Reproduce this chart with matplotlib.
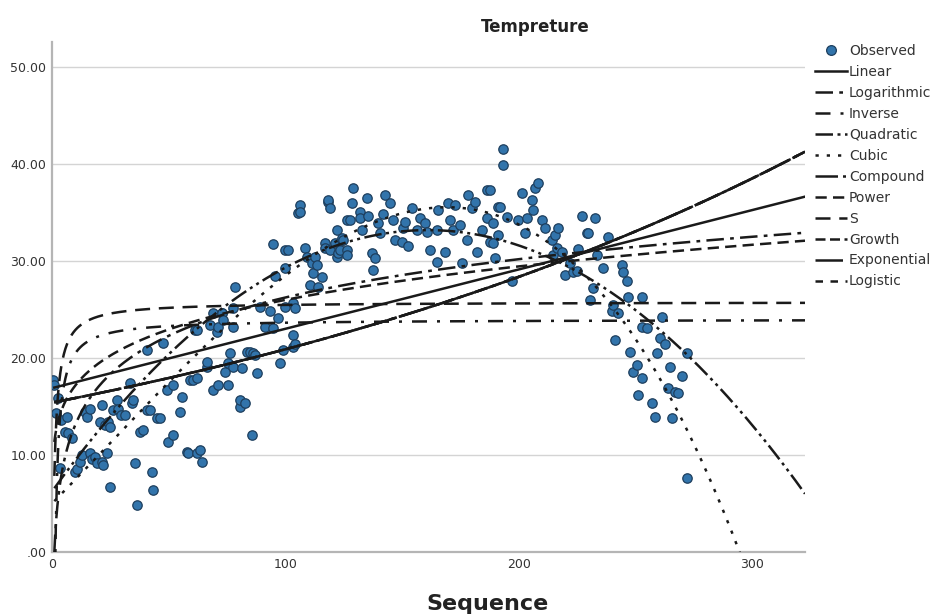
import numpy as np
import matplotlib
matplotlib.use("Agg")
import matplotlib.pyplot as plt
from matplotlib.lines import Line2D

# ---------------- data ----------------
obs_x = [0.4, 1.0, 1.5, 2.6, 3.4, 4.0, 5.6, 6.4, 6.9, 8.6, 9.9, 10.7, 12.0, 12.9, 14.1, 15.0, 16.3, 16.3,
         17.0, 18.4, 19.3, 20.6, 21.4, 21.4, 22.0, 22.7, 23.6, 24.0, 24.9, 24.9, 26.0, 27.8, 28.3, 29.5,
         31.3, 33.4, 34.3, 34.7, 35.6, 36.4, 37.7, 39.0, 40.7, 40.7, 42.0, 42.9, 43.3, 45.0, 46.3, 47.6,
         49.3, 49.7, 51.9, 51.9, 54.9, 55.7, 57.9, 58.3, 59.2, 60.4, 61.3, 62.2, 62.1, 63.4, 64.3,
         62.2, 66.4, 66.4, 67.7, 69.0, 69.0, 70.7, 71.2, 71.2, 72.9, 72.9, 73.3, 74.2, 75.4, 75.4, 76.3,
         77.6, 77.6, 77.6, 78.4, 80.6, 80.6, 81.4, 82.7, 83.6, 84.9, 85.5, 86.2, 87.0, 87.9, 89.2, 91.3,
         93.4, 94.7, 94.7, 95.6, 96.9, 97.7, 99.0, 99.9, 99.9, 99.9,
         101.2, 103.3, 103.3, 103.3, 104.2, 104.2, 105.4, 106.3, 106.3, 108.4, 109.3, 110.6, 111.4, 111.9,
         112.7, 113.6, 114.0, 115.7, 117.0, 117.0, 118.3, 118.3, 119.2, 119.2, 121.3, 122.2, 122.2, 122.6,
         123.4, 124.3, 124.3, 124.7, 126.4, 126.4, 126.4, 127.7, 128.6, 129.0,
         132.0, 132.0, 132.9, 135.0, 135.4, 137.2, 137.6, 138.4, 139.7, 140.6, 141.9, 142.7, 144.9, 146.2,
         147.0, 150.0, 150.4, 151.3, 152.6, 154.3, 156.4, 157.7, 159.9, 160.7, 162.0, 165.0, 165.0, 165.5,
         168.5, 169.7, 170.6, 171.9, 172.7, 174.9, 175.7, 177.9, 178.3, 180.0, 181.3, 182.2, 184.3, 186.5,
         186.5, 187.7, 187.7, 189.0, 189.0, 189.9, 191.2, 191.2,
         192.0, 193.3, 193.3, 195.0, 197.2, 199.7, 201.5, 202.7, 203.6, 205.7, 206.2, 207.0, 208.3, 210.0,
         211.3, 214.3, 214.7, 215.6, 216.4, 216.9, 218.6, 219.9, 222.0, 223.3, 225.0, 225.5, 227.2, 229.3,
         229.7, 230.6, 231.9, 232.7,
         233.6, 236.2, 238.3, 240.0, 240.5, 241.3, 242.6, 244.3, 244.7, 246.5, 246.9, 247.7, 249.0, 250.7,
         251.2, 252.9, 252.9, 252.9, 255.0, 257.2, 258.5, 259.3, 260.6, 261.5, 262.7, 264.0, 264.9, 265.8,
         267.0, 268.3, 270.0, 272.2, 272.2]
obs_y = [17.7, 17.2, 14.3, 15.9, 8.7, 13.6, 12.4, 13.9, 12.3, 11.8, 8.2, 8.6, 9.3, 10.0, 14.4, 13.9, 14.8, 10.2,
         9.6, 9.8, 9.2, 13.4, 15.2, 9.3, 9.0, 13.1, 10.2, 13.4, 12.9, 6.7, 14.6, 15.7, 14.8, 14.1,
         14.1, 17.4, 15.4, 15.7, 9.2, 4.8, 12.4, 12.6, 20.8, 14.6, 14.6, 8.2, 6.4, 13.8, 13.8, 21.6,
         16.7, 11.3, 17.2, 12.1, 14.4, 16.0, 10.3, 10.2, 17.7, 17.7, 22.9, 17.9, 10.2, 10.5, 9.3,
         22.9, 19.1, 19.6, 23.4, 16.7, 24.6, 22.7, 17.2, 23.2, 24.6, 24.7, 23.9, 18.6, 17.2, 19.5, 20.5,
         23.2, 25.2, 19.1, 27.3, 15.0, 15.7, 19.0, 15.4, 20.6, 20.6, 12.1, 20.5, 20.3, 18.5, 25.3, 23.2,
         24.9, 23.1, 31.8, 28.5, 24.1, 19.5, 20.8, 25.3, 29.3, 31.1,
         31.1, 22.4, 21.1, 25.7, 21.5, 25.2, 35.0, 35.8, 35.1, 31.4, 30.4, 27.5, 29.8, 28.8,
         30.4, 29.6, 27.3, 28.4, 31.9, 31.4, 36.1, 36.3, 35.5, 31.1, 31.9, 33.2, 30.4, 30.8,
         31.1, 32.2, 32.4, 32.2, 34.2, 31.1, 30.6, 34.2, 36.0, 37.5,
         35.1, 34.4, 33.2, 36.5, 34.7, 30.8, 29.1, 30.3, 33.9, 32.9, 34.9, 36.8, 36.0, 34.2,
         32.2, 32.0, 33.4, 34.0, 31.6, 35.5, 33.2, 34.4, 33.9, 33.0, 31.1, 33.2, 29.9, 35.3,
         30.9, 36.0, 34.2, 33.2, 35.8, 33.7, 29.8, 32.2, 36.8, 35.5, 36.1, 30.9, 33.2, 37.3,
         34.4, 37.3, 32.0, 33.9, 31.9, 30.3, 35.6, 32.7,
         35.6, 41.6, 39.9, 34.5, 28.0, 34.2, 37.0, 32.9, 34.4, 36.3, 35.3, 37.5, 38.1, 34.2,
         33.4, 32.2, 30.6, 32.7, 31.4, 33.4, 30.9, 28.6, 29.8, 28.9, 29.0, 31.3, 34.7, 32.9,
         32.9, 26.0, 27.2, 34.4,
         30.6, 29.3, 32.5, 24.9, 25.5, 21.9, 24.7, 29.6, 28.9, 28.0, 26.3, 20.6, 18.6, 19.3,
         16.2, 26.3, 23.2, 17.9, 23.1, 15.4, 13.9, 20.5, 22.1, 24.2, 21.5, 16.9, 19.1, 13.8,
         16.5, 16.4, 18.2, 20.5, 7.6]

# model coefficients (estimated from the drawn curves)
linear_coef = [16.9, 0.0612]              # b0 + b1*t
log_coef = [0.0, 5.7]                     # b0 + b1*ln(t)
inverse_coef = [24.0, -35.0]              # b0 + b1/t
quadratic_coef = [33.2, -0.00104, 161.0]  # peak value, curvature, peak position
cubic_coef = [5.0, 24.51, 3.04, -4.05]    # in u = t/100
power_coef = [11.35, 0.18]                # b0 * t^b1
s_coef = [3.25, -1.19]                    # exp(b0 + b1/t)
exp_coef = [15.4, 0.003056]               # b0 * exp(b1*t)  (compound/growth/exponential/logistic)

title = "Tempreture"
xlabel = "Sequence"
yticks = [0, 10, 20, 30, 40, 50]
ytick_labels = [".00", "10.00", "20.00", "30.00", "40.00", "50.00"]
xticks = [0, 100, 200, 300]
xtick_labels = ["0", "100", "200", "300"]

# ---------------- figure ----------------
fig = plt.figure(figsize=(9.36, 6.14), dpi=100)
ax = fig.add_axes([52 / 936, 1 - 552 / 614, (805 - 52) / 936, (552 - 42) / 614])

ax.set_xlim(0, 322.7)
ax.set_ylim(0, 52.6)

for yv in yticks[1:]:
    ax.axhline(yv, color="#d4d4d4", lw=1.0, zorder=0)

ax.scatter(obs_x, obs_y, s=46, color="#3274ab", edgecolor="#1e3f5e", linewidth=0.9, zorder=3)

t = np.linspace(1, 322.7, 1500)
lc = "#1a1a1a"
lw = 1.8

y_lin = linear_coef[0] + linear_coef[1] * t
y_log = log_coef[0] + log_coef[1] * np.log(t)
y_inv = inverse_coef[0] + inverse_coef[1] / t
y_quad = quadratic_coef[0] + quadratic_coef[1] * (t - quadratic_coef[2]) ** 2
u = t / 100.0
y_cub = cubic_coef[0] + cubic_coef[1] * u + cubic_coef[2] * u ** 2 + cubic_coef[3] * u ** 3
y_pow = power_coef[0] * t ** power_coef[1]
y_s = np.exp(s_coef[0] + s_coef[1] / t)
y_exp = exp_coef[0] * np.exp(exp_coef[1] * t)

styles = {
    "Linear": "-",
    "Logarithmic": (0, (7, 2.5, 1.5, 2.5)),
    "Inverse": (0, (6, 4, 1.2, 4)),
    "Quadratic": (0, (7, 1.8, 1.2, 1.8, 1.2, 1.8)),
    "Cubic": (0, (1.3, 3.2)),
    "Compound": (0, (9, 2, 1.2, 2)),
    "Power": (0, (4.5, 2.5)),
    "S": (0, (6, 3.5)),
    "Growth": (0, (4, 1.8, 4, 1.8, 1.2, 1.8)),
    "Exponential": (0, (11, 1.8, 1.2, 1.8)),
    "Logistic": (0, (3, 3)),
}
curves = {
    "Linear": y_lin, "Logarithmic": y_log, "Inverse": y_inv, "Quadratic": y_quad,
    "Cubic": y_cub, "Compound": y_exp, "Power": y_pow, "S": y_s, "Growth": y_exp,
    "Exponential": y_exp, "Logistic": y_exp,
}
for name, yy in curves.items():
    ax.plot(t, yy, color=lc, lw=lw, linestyle=styles[name], zorder=4, clip_on=True)

for s in ["top", "right"]:
    ax.spines[s].set_visible(False)
for s in ["left", "bottom"]:
    ax.spines[s].set_color("#b5b5b5")
    ax.spines[s].set_linewidth(1.6)

ax.set_yticks(yticks)
ax.set_yticklabels(ytick_labels)
ax.set_xticks(xticks)
ax.set_xticklabels(xtick_labels)
ax.tick_params(axis="both", length=0, labelsize=9, colors="#333333", pad=4)

fig.text(535 / 936, 1 - 27 / 614, title, ha="center", va="center", fontsize=12, fontweight="bold", color="#222222")
fig.text(487 / 936, 1 - 604 / 614, xlabel, ha="center", va="center", fontsize=16, fontweight="bold", color="#222222")

handles = [Line2D([], [], marker="o", linestyle="none", markersize=7, markerfacecolor="#3274ab",
                  markeredgecolor="#1e3f5e", markeredgewidth=0.9)]
labels = ["Observed"]
for name in styles:
    handles.append(Line2D([], [], color=lc, lw=lw, linestyle=styles[name]))
    labels.append(name)
leg = fig.legend(handles, labels, loc="upper left", bbox_to_anchor=(815 / 936, 1 - 44 / 614),
                 frameon=False, fontsize=10, handlelength=2.3, handletextpad=0.15,
                 labelspacing=0.5, borderpad=0, borderaxespad=0)
for txt in leg.get_texts():
    txt.set_color("#333333")

fig.savefig("out.png", dpi=100)
